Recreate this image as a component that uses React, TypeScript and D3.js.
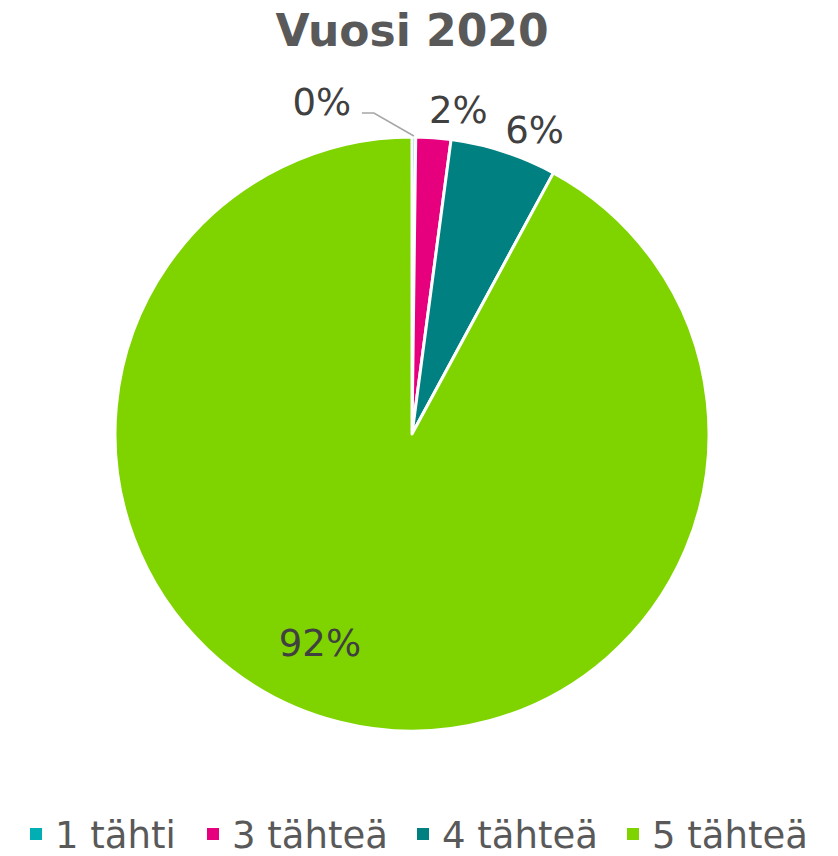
import React from "react";
import * as d3 from "d3";

const title = "Vuosi 2020";
const categories = ["1 tähti", "3 tähteä", "4 tähteä", "5 tähteä"];
const values = [0.2, 1.9, 5.8, 92.1];
const labels = ["0%", "2%", "6%", "92%"];
const colors = ["#00AEB3", "#E6007E", "#008080", "#7FD400"];

const W = 838;
const H = 856;
const cx = 412;
const cy = 434;
const R = 297;
const FONT = "'DejaVu Sans', Verdana, sans-serif";

function polar(angle: number, r: number): [number, number] {
  return [cx + Math.sin(angle) * r, cy - Math.cos(angle) * r];
}

export default function App() {
  const pie = d3.pie<number>().sort(null).value((d) => d);
  const arcs = pie(values);
  const arc = d3.arc<d3.PieArcDatum<number>>().innerRadius(0).outerRadius(R);
  const deg = Math.PI / 180;

  const legendX = [30, 207, 417, 627];

  return (
    <svg width={W} height={H} style={{ display: "block", position: "absolute", left: 0, top: 0 }}>
      <rect width={W} height={H} fill="#fff" />
      <text x={412} y={46} textAnchor="middle" fontFamily={FONT} fontWeight="bold" fontSize={44} fill="#595959">
        {title}
      </text>
      <g transform={`translate(${cx},${cy})`}>
        {arcs.map((a, i) => (
          <path key={i} d={arc(a) || ""} fill={colors[i]} stroke="#fff" strokeWidth={3} strokeLinejoin="round" />
        ))}
      </g>
      {arcs.map((a, i) => {
        const mid = (a.startAngle + a.endAngle) / 2;
        if (i === 0) {
          const [x0, y0] = polar(mid, R + 1);
          const [x1, y1] = [x0 - 40, y0 - 23];
          const [lx, ly] = polar(-15.2 * deg, 344);
          return (
            <g key={i}>
              <polyline points={`${x0},${y0} ${x1},${y1} ${x1 - 12},${y1}`} fill="none" stroke="#A6A6A6" strokeWidth={1.5} />
              <text x={lx} y={ly} textAnchor="middle" dominantBaseline="central" fontFamily={FONT} fontSize={37} fill="#404040">
                {labels[i]}
              </text>
            </g>
          );
        }
        if (i === 3) {
          const [lx, ly] = polar(203.7 * deg, 229);
          return (
            <text key={i} x={lx} y={ly} textAnchor="middle" dominantBaseline="central" fontFamily={FONT} fontSize={37} fill="#404040">
              {labels[i]}
            </text>
          );
        }
        const [lx, ly] = polar(mid + 4 * deg, R + 30);
        return (
          <text key={i} x={lx} y={ly} textAnchor="middle" dominantBaseline="central" fontFamily={FONT} fontSize={37} fill="#404040">
            {labels[i]}
          </text>
        );
      })}
      {categories.map((c, i) => (
        <g key={c}>
          <rect x={legendX[i]} y={828} width={12} height={12} fill={colors[i]} />
          <text x={legendX[i] + 25} y={848} fontFamily={FONT} fontSize={37} fill="#595959">
            {c}
          </text>
        </g>
      ))}
    </svg>
  );
}
